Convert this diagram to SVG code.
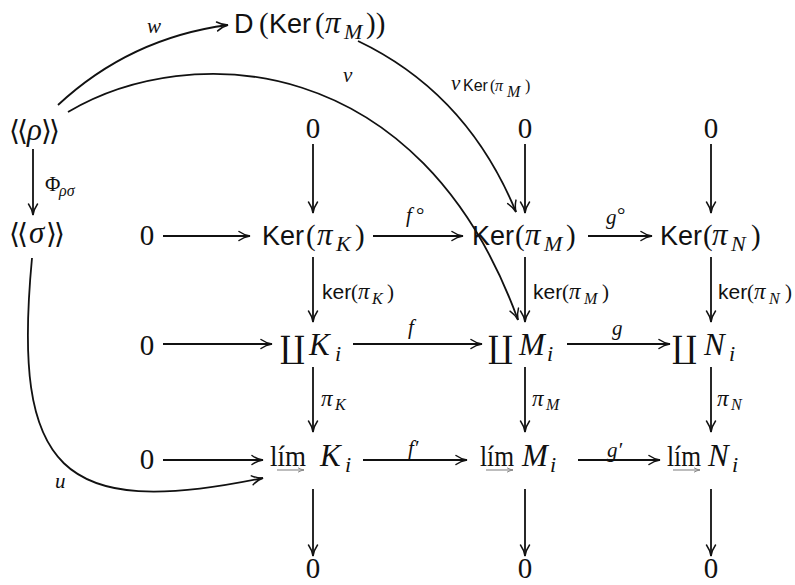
<svg xmlns="http://www.w3.org/2000/svg" width="795" height="585" viewBox="0 0 795 585">
<defs>
<marker id="ah" markerUnits="userSpaceOnUse" viewBox="0 0 14 12" markerWidth="14" markerHeight="12" refX="12.5" refY="6" orient="auto">
<path d="M1.5,1.5 C5,4 9,5.4 12.5,6 C9,6.6 5,8 1.5,10.5" fill="none" stroke="#111" stroke-width="1.5" stroke-linecap="round"/>
</marker>
<marker id="ag" markerUnits="userSpaceOnUse" viewBox="0 0 8 6" markerWidth="8" markerHeight="6" refX="7" refY="3" orient="auto">
<path d="M1,0.8 C3,2 5,2.7 7,3 C5,3.3 3,4 1,5.2" fill="none" stroke="#888" stroke-width="1"/>
</marker>
</defs>
<style>
text{fill:#111}
.s{font-family:"Liberation Sans",Arial,sans-serif;font-size:27px}
.r{font-family:"Liberation Serif","Times New Roman",serif;font-size:29px}
.i{font-family:"Liberation Serif","Times New Roman",serif;font-style:italic;font-size:31px}
.b{font-family:"DejaVu Sans",sans-serif;font-size:28px}
.c{font-family:"DejaVu Serif","DejaVu Sans",serif;font-size:31px}
.sub{font-size:22px}
.l{font-size:21px}
.lp{font-size:23px}
.ls{font-size:16px}
.e{stroke:#111;stroke-width:1.8;fill:none;marker-end:url(#ah)}
.g{stroke:#888;stroke-width:1.1;fill:none;marker-end:url(#ag)}
</style>

<g id="connectors">
<line class="e" x1="33" y1="149" x2="33" y2="215"/>
<line class="e" x1="313" y1="144" x2="313" y2="213"/>
<line class="e" x1="313" y1="257" x2="313" y2="322"/>
<line class="e" x1="313" y1="367" x2="313" y2="432"/>
<line class="e" x1="313" y1="489" x2="313" y2="556"/>
<line class="e" x1="525" y1="144" x2="525" y2="213"/>
<line class="e" x1="525" y1="257" x2="525" y2="322"/>
<line class="e" x1="525" y1="367" x2="525" y2="432"/>
<line class="e" x1="525" y1="489" x2="525" y2="556"/>
<line class="e" x1="711" y1="144" x2="711" y2="213"/>
<line class="e" x1="711" y1="257" x2="711" y2="322"/>
<line class="e" x1="711" y1="367" x2="711" y2="432"/>
<line class="e" x1="711" y1="489" x2="711" y2="556"/>
<line class="e" x1="163" y1="236" x2="250" y2="236"/>
<line class="e" x1="373" y1="236" x2="463" y2="236"/>
<line class="e" x1="588" y1="236" x2="652" y2="236"/>
<line class="e" x1="163" y1="344" x2="272" y2="344"/>
<line class="e" x1="353" y1="344" x2="482" y2="344"/>
<line class="e" x1="567" y1="344" x2="670" y2="344"/>
<line class="e" x1="163" y1="460" x2="263" y2="460"/>
<line class="e" x1="363" y1="460" x2="467" y2="460"/>
<line class="e" x1="578" y1="460" x2="660" y2="460"/>
<path class="e" d="M58,105 Q130,38 228,25"/>
<path class="e" d="M68,112 C190,40 420,50 518,320"/>
<path class="e" d="M358,41 Q467,93 516,212"/>
<path class="e" d="M32,258 C12,470 60,520 263,478"/>
<text class="i l" x="147" y="33">w</text>
<text class="i l" x="343" y="82">v</text>
<text class="i l" x="55" y="488">u</text>
<text y="90"><tspan class="i l" x="451">ν</tspan><tspan class="s ls" x="463" y="91">Ker</tspan><tspan class="r ls" x="490">(</tspan><tspan class="i ls" x="495" font-size="18">π</tspan><tspan class="i ls" x="507" y="97">M</tspan><tspan class="r ls" x="525" y="91">)</tspan></text>
<text y="191"><tspan class="r l" x="45">Φ</tspan><tspan class="i ls" x="59" y="196">ρσ</tspan></text>
<text y="222"><tspan class="i l" x="406">f</tspan><tspan class="r l" x="416" y="222">°</tspan></text>
<text y="224"><tspan class="i l" x="606">g</tspan><tspan class="r l" x="617" y="222">°</tspan></text>
<text class="i l" x="408" y="334">f</text>
<text class="i l" x="612" y="335">g</text>
<text class="i l" x="408" y="455">f′</text>
<text class="i l" x="607" y="457">g′</text>
<text y="299"><tspan class="s l" x="322">ker</tspan><tspan class="r l" x="351">(</tspan><tspan class="i lp" x="358">π</tspan><tspan class="i ls" x="372" y="304" font-size="17">K</tspan><tspan class="r l" x="387" y="299">)</tspan></text>
<text y="299"><tspan class="s l" x="533">ker</tspan><tspan class="r l" x="562">(</tspan><tspan class="i lp" x="569">π</tspan><tspan class="i ls" x="584" y="304" font-size="17">M</tspan><tspan class="r l" x="602" y="299">)</tspan></text>
<text y="299"><tspan class="s l" x="718">ker</tspan><tspan class="r l" x="747">(</tspan><tspan class="i lp" x="754">π</tspan><tspan class="i ls" x="769" y="304" font-size="17">N</tspan><tspan class="r l" x="785" y="299">)</tspan></text>
<text y="406"><tspan class="i lp" x="321">π</tspan><tspan class="i ls" x="335" y="410" font-size="17">K</tspan></text>
<text y="406"><tspan class="i lp" x="532">π</tspan><tspan class="i ls" x="546" y="410" font-size="17">M</tspan></text>
<text y="406"><tspan class="i lp" x="717">π</tspan><tspan class="i ls" x="731" y="410" font-size="17">N</tspan></text>
</g>

<g id="n-D"><text y="33"><tspan class="s" x="234">D</tspan><tspan class="r" x="259">(</tspan><tspan class="s" x="269">Ker</tspan><tspan class="r" x="315">(</tspan><tspan class="i" x="325">π</tspan><tspan class="i sub" x="344" y="39">M</tspan><tspan class="r" x="366" y="33">))</tspan></text></g>

<g id="n-rho"><text y="140"><tspan class="b" x="9 17">⟨⟨</tspan><tspan class="i" x="27">ρ</tspan><tspan class="b" x="41 49">⟩⟩</tspan></text></g>
<g id="n-sigma"><text y="243"><tspan class="b" x="9 17">⟨⟨</tspan><tspan class="i" x="29">σ</tspan><tspan class="b" x="46 54">⟩⟩</tspan></text></g>

<g id="n-z1"><text class="r" x="313" y="138" text-anchor="middle">0</text></g>
<g id="n-z2"><text class="r" x="525" y="138" text-anchor="middle">0</text></g>
<g id="n-z3"><text class="r" x="711" y="138" text-anchor="middle">0</text></g>

<g id="n-z4"><text class="r" x="147" y="245" text-anchor="middle">0</text></g>
<g id="n-kerK"><text y="245"><tspan class="s" x="262">Ker</tspan><tspan class="r" x="306">(</tspan><tspan class="i" x="317">π</tspan><tspan class="i sub" x="336" y="251">K</tspan><tspan class="r" x="355" y="245">)</tspan></text></g>
<g id="n-kerM"><text y="245"><tspan class="s" x="472">Ker</tspan><tspan class="r" x="515">(</tspan><tspan class="i" x="525">π</tspan><tspan class="i sub" x="544" y="251">M</tspan><tspan class="r" x="566" y="245">)</tspan></text></g>
<g id="n-kerN"><text y="245"><tspan class="s" x="660">Ker</tspan><tspan class="r" x="703">(</tspan><tspan class="i" x="712">π</tspan><tspan class="i sub" x="731" y="251">N</tspan><tspan class="r" x="751" y="245">)</tspan></text></g>

<g id="n-z5"><text class="r" x="147" y="355" text-anchor="middle">0</text></g>
<g id="n-cK"><text y="355"><tspan class="c" x="280" y="358">∐</tspan><tspan class="i" x="309" y="355">K</tspan><tspan class="i sub" x="335" y="361">i</tspan></text></g>
<g id="n-cM"><text y="355"><tspan class="c" x="488" y="358">∐</tspan><tspan class="i" x="519" y="355">M</tspan><tspan class="i sub" x="547" y="361">i</tspan></text></g>
<g id="n-cN"><text y="355"><tspan class="c" x="672" y="358">∐</tspan><tspan class="i" x="704" y="355">N</tspan><tspan class="i sub" x="729" y="361">i</tspan></text></g>

<g id="n-z6"><text class="r" x="147" y="469" text-anchor="middle">0</text></g>
<g id="n-lK"><text y="466"><tspan class="r" x="270" textLength="36" lengthAdjust="spacingAndGlyphs">lím</tspan><tspan class="i" x="320">K</tspan><tspan class="i sub" x="345" y="472">i</tspan></text><line class="g" x1="277" y1="470" x2="304" y2="470"/></g>
<g id="n-lM"><text y="466"><tspan class="r" x="480" textLength="34" lengthAdjust="spacingAndGlyphs">lím</tspan><tspan class="i" x="522">M</tspan><tspan class="i sub" x="550" y="472">i</tspan></text><line class="g" x1="486" y1="470" x2="513" y2="470"/></g>
<g id="n-lN"><text y="466"><tspan class="r" x="667" textLength="34" lengthAdjust="spacingAndGlyphs">lím</tspan><tspan class="i" x="708">N</tspan><tspan class="i sub" x="732" y="472">i</tspan></text><line class="g" x1="673" y1="470" x2="700" y2="470"/></g>

<g id="n-z7"><text class="r" x="313" y="578" text-anchor="middle">0</text></g>
<g id="n-z8"><text class="r" x="525" y="578" text-anchor="middle">0</text></g>
<g id="n-z9"><text class="r" x="711" y="578" text-anchor="middle">0</text></g>
</svg>
